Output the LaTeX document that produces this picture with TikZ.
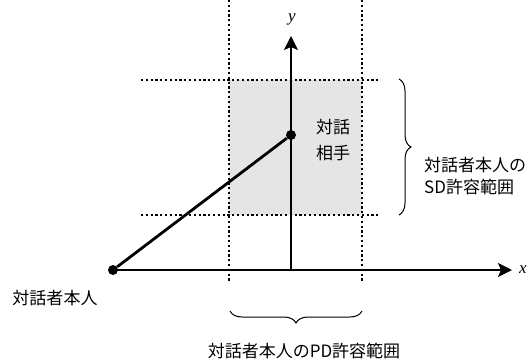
\documentclass[tikz,border=0pt]{standalone}
\usepackage{fontspec}
\setmainfont{Liberation Serif}
\newfontfamily\jp{Noto Sans CJK JP}
\usetikzlibrary{arrows.meta,decorations.pathreplacing}
\tikzset{
  dotline/.style={line width=2.2pt, dash pattern=on 2.2pt off 2.6pt},
  thick line/.style={line width=2.8pt},
  axis/.style={line width=1.4pt,-{Stealth[length=14pt,width=14pt,inset=3pt]}},
  pt/.style={circle,fill=black,inner sep=0pt,minimum size=10pt},
  lbl/.style={font=\jp\fontsize{17}{22}\selectfont, inner sep=0pt},
  brc/.style={decorate,decoration={brace,amplitude=12pt},line width=1pt}
}
\begin{document}
\begin{tikzpicture}[x=1pt,y=-1pt]
\useasboundingbox (0,0) rectangle (532,362);
% shaded region
\fill[gray!20] (229,80) rectangle (362,215);
% dotted grid
\draw[dotline] (229,0) -- (229,283);
\draw[dotline] (362,0) -- (362,283);
\draw[dotline] (141,80) -- (380,80);
\draw[dotline] (141,215) -- (380,215);
% nodes
\node[pt] (o) at (113,270) {};
\node[pt] (p) at (291,135) {};
\coordinate (f) at (291,270);
\coordinate (xe) at (512,270);
\coordinate (ye) at (291,36);
% axes
\draw[axis] (f) -- (xe);
\draw[axis] (f) -- (ye);
\draw[thick line] (o) -- (p);
\draw[thick line] (o.center) -- (f) -- (p.center);
% axis labels
\node[font=\itshape\fontsize{17}{17}\selectfont] (xl) at (523,270) {x};
\node[font=\itshape\fontsize{17}{17}\selectfont] (yl) at (292,19) {y};
% partner label
\node[lbl,align=center] (pl) at (333,140) {対話\\[4pt]相手};
% self label
\node[lbl] (sl) at (55,298) {対話者本人};
% braces
\draw[brc] (399,79) -- (399,215);
\node[lbl,align=left,anchor=west] (sd) at (424,176) {対話者本人の\\SD許容範囲};
\draw[brc] (362,311) -- (230,311);
\node[lbl] (pd) at (304,351) {対話者本人のPD許容範囲};
\end{tikzpicture}
\end{document}
